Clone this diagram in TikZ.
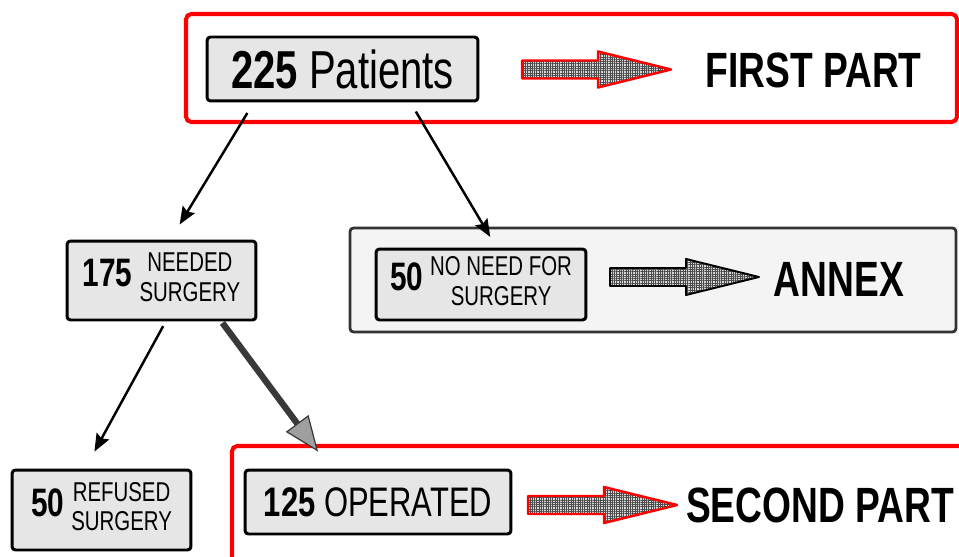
\documentclass[tikz,border=0pt]{standalone}
\usepackage{fontspec}
\setmainfont{Liberation Sans}[FakeStretch=0.75]
\usetikzlibrary{calc,arrows.meta,patterns.meta}
\definecolor{boxgray}{RGB}{230,230,230}
\definecolor{annexgray}{RGB}{244,244,244}
\def\blockarrow[#1](#2,#3){\draw[#1] (#2,#3-9) -- ++(76,0) -- ++(0,-9) -- ++(73,18) -- ++(-73,18) -- ++(0,-9) -- ++(-76,0) -- cycle;}
\newcommand\smalltxt{\fontsize{15.5}{17}\selectfont}
\newcommand\numtxt{\fontsize{22.6}{26}\selectfont\bfseries}
\tikzset{
	box/.style={draw, line width=1.7pt, rounded corners=2pt, fill=boxgray, inner sep=0pt},
	redframe/.style={draw=red, line width=2.3pt, rounded corners=3pt},
	tag/.style={font=\fontsize{28.2}{32}\selectfont\bfseries},
	arr/.style={line width=1.4pt, -{Stealth[length=10pt,width=8pt,inset=1.5pt]}},
	hatch/.style={preaction={fill=gray!30},
		preaction={pattern={Lines[distance=1.3pt,line width=.3pt]}, pattern color=gray!60!black},
		preaction={pattern={Lines[angle=90,distance=1.3pt,line width=.3pt]}, pattern color=gray!60!black}},
	redarrow/.style={hatch, draw=red, line width=1.4pt, line join=round},
	blkarrow/.style={hatch, draw=black, line width=1.1pt, line join=round}
}
\begin{document}
\begin{tikzpicture}[x=0.02cm, y=-0.02cm]
		\useasboundingbox (0,0) rectangle (959,557);
		%%%%% FRAMES %%%%%
		\draw[redframe, fill=white] (186,14) rectangle (957,122);
		\draw[line width=1.6pt, draw=black!80, fill=annexgray, rounded corners=2pt] (350,228) rectangle (956,332);
		\draw[redframe] (959,446) -- (232,446) -- (232,557);
		
		%%%%% BOXES %%%%%
		\node[box, minimum width=5.42cm, minimum height=1.28cm, font=\fontsize{30.4}{34}\selectfont] (pat) at (342.5,69) {\textbf{225} Patients};
		\node[box, minimum width=3.78cm, minimum height=1.58cm] (needed) at (161.5,280.5)
			{{\numtxt 175}\hspace{4pt}{\smalltxt\begin{tabular}{@{}c@{}}NEEDED\\SURGERY\end{tabular}}};
		\node[box, minimum width=4.2cm, minimum height=1.42cm] (noneed) at (481,284.5)
			{{\numtxt 50}\hspace{4pt}{\smalltxt\begin{tabular}{@{}c@{}}NO NEED FOR\\SURGERY\end{tabular}}};
		\node[box, minimum width=3.58cm, minimum height=1.6cm] (refused) at (101.5,510)
			{{\numtxt 50}\hspace{4pt}{\smalltxt\begin{tabular}{@{}c@{}}REFUSED\\SURGERY\end{tabular}}};
		\node[box, minimum width=5.32cm, minimum height=1.28cm, font=\fontsize{23.5}{27}\selectfont] (operated) at (378,502) {\textbf{125} OPERATED};
		
		%%%%% LABELS %%%%%
		\node[tag] (first) at (813.5,70) {FIRST PART};
		\node[tag] (annex) at (839,279) {ANNEX};
		\node[tag] (second) at (820,505) {SECOND PART};
		
		\blockarrow[redarrow](522,69.5)
		\blockarrow[blkarrow](610,277)
		\blockarrow[redarrow](528,505)
		
		%%%%% CONNECTORS %%%%%
		\draw[arr, shorten <=7pt, shorten >=10pt] ($(pat.south west)!.176!(pat.south east)$) -- ($(needed.north west)!.547!(needed.north east)$);
		\draw[arr, shorten <=6pt, shorten >=7pt] ($(pat.south west)!.748!(pat.south east)$) -- ($(noneed.north west)!.573!(noneed.north east)$);
		\draw[arr, shorten <=3pt, shorten >=11pt] ($(needed.south west)!.522!(needed.south east)$) -- ($(refused.north west)!.41!(refused.north east)$);
		\draw[line width=3.6pt, draw=gray!45!black, -{Triangle[length=20pt,width=16pt,line width=0.7pt,fill=gray!75]}, shorten <=1pt, shorten >=12pt]
			($(needed.south west)!.812!(needed.south east)$) -- ($(operated.north west)!.324!(operated.north east)$);
	\end{tikzpicture}
\end{document}
